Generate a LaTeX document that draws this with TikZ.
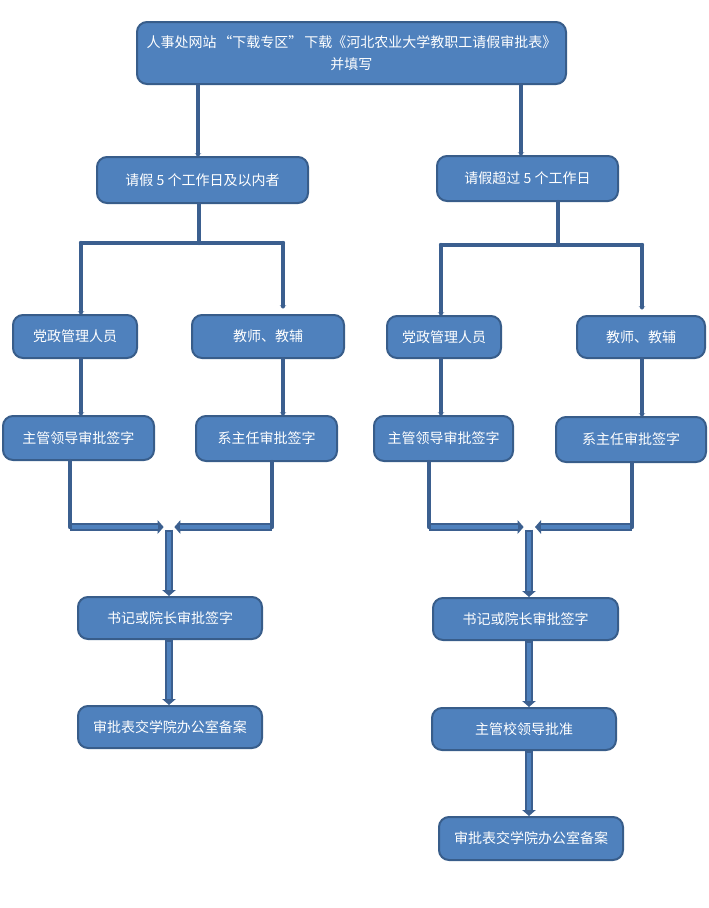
\documentclass[tikz,border=0pt]{standalone}
\usepackage{fontspec}
\setmainfont{Noto Sans CJK SC}
\usetikzlibrary{arrows.meta, positioning, calc}
\definecolor{boxfill}{HTML}{4F81BD}
\definecolor{boxline}{HTML}{385D8A}
\definecolor{linkline}{HTML}{3B5F8F}
\tikzset{
    flowchart/.style={x=0.75pt, y=-0.75pt, font=\fontsize{10.5}{16}\selectfont},
    flowbox/.style={draw=boxline, line width=1.5pt, fill=boxfill, rounded corners=7.5pt,
        text=white, align=center, inner sep=0pt},
    boxsize/.style 2 args={minimum width=#1*0.75pt, minimum height=#2*0.75pt},
    wire/.style={draw=linkline, line width=3.3pt, line cap=round},
    link/.style={wire, -{Stealth[length=2pt, width=5pt]}},
    % thick arrow: dark outline with a lighter core
    bigarrow/.style={draw=linkline, line width=5.6pt, -{Triangle[length=4.5pt, width=10pt]},
        postaction={draw=boxfill, line width=2.4pt, -, shorten >=4.5pt, shorten <=1.5pt}},
}
\begin{document}
\begin{tikzpicture}[flowchart]
    \useasboundingbox (0,0) rectangle (709,908);

    \node[flowbox, boxsize={429}{62}] (top) at (351.5,53)
        {人事处网站\hspace{1.5pt}“下载专区”\hspace{1.5pt}下载《河北农业大学教职工请假审批表》\\并填写};
    \node[flowbox, boxsize={211}{46}] (l5) at (202.5,180)   {请假 5 个工作日及以内者};
    \node[flowbox, boxsize={181}{45}] (r5) at (527.5,178.5) {请假超过 5 个工作日};

    \node[flowbox, boxsize={124}{43}] (la) at (75,336.5)    {党政管理人员};
    \node[flowbox, boxsize={152}{43}] (lb) at (268,336.5)   {教师、教辅};
    \node[flowbox, boxsize={114}{42}] (ra) at (444,337)     {党政管理人员};
    \node[flowbox, boxsize={128}{42}] (rb) at (641,337)     {教师、教辅};

    \node[flowbox, boxsize={151}{44}] (lc) at (78.5,438)    {主管领导审批签字};
    \node[flowbox, boxsize={141}{45}] (ld) at (266.5,438.5) {系主任审批签字};
    \node[flowbox, boxsize={139}{45}] (rc) at (443.5,438.5) {主管领导审批签字};
    \node[flowbox, boxsize={150}{45}] (rd) at (631,439.5)   {系主任审批签字};

    \node[flowbox, boxsize={184}{42}] (le) at (170,618)     {书记或院长审批签字};
    \node[flowbox, boxsize={184}{42}] (lf) at (170,727)     {审批表交学院办公室备案};
    \node[flowbox, boxsize={185}{42}] (re) at (525.5,619)   {书记或院长审批签字};
    \node[flowbox, boxsize={184}{42}] (rg) at (524,729)     {主管校领导批准};
    \node[flowbox, boxsize={184}{43}] (rf) at (531,838.5)   {审批表交学院办公室备案};

    % junction points
    \coordinate (ltop)    at ([xshift=-3.4pt]l5.north);
    \coordinate (rtop)    at ([xshift=-4.9pt]r5.north);
    \coordinate (lsplit)  at (199,243);
    \coordinate (lleft)   at (81,243);
    \coordinate (lright)  at (283,243);
    \coordinate (rsplit)  at (558,245);
    \coordinate (rleft)   at (441,245);
    \coordinate (rright)  at (642,245);
    \coordinate (lmerge1) at (70,527);
    \coordinate (lmerge2) at (272,527);
    \coordinate (ljoin)   at (169,527);
    \coordinate (rmerge1) at (429,527);
    \coordinate (rmerge2) at (632,527);
    \coordinate (rjoin)   at (529,527);

    % top box to the two cases
    \draw[link] (top.south -| ltop) -- (ltop);
    \draw[link] (top.south -| rtop) -- (rtop);

    % left case: split
    \draw[wire] (l5.south -| lsplit) -- (lsplit);
    \draw[wire] (lleft) -- (lright);
    \draw[link] (lleft) -- (la.north -| lleft);
    \draw[link] (lright) -- ([yshift=4.5pt]lb.north -| lright);
    \draw[link] (la.south -| lleft) -- (lc.north -| lleft);
    \draw[link] (lb.south -| lright) -- (ld.north -| lright);

    % right case: split
    \draw[wire] (r5.south -| rsplit) -- (rsplit);
    \draw[wire] (rleft) -- (rright);
    \draw[link] (rleft) -- (ra.north -| rleft);
    \draw[link] (rright) -- ([yshift=4.5pt]rb.north -| rright);
    \draw[link] (ra.south -| rleft) -- (rc.north -| rleft);
    \draw[link] (rb.south -| rright) -- (rd.north -| rright);

    % left case: merge
    \draw[wire] (lc.south -| lmerge1) -- (lmerge1);
    \draw[wire] (ld.south -| lmerge2) -- (lmerge2);
    \draw[bigarrow] (lmerge1) -- ([xshift=-4pt]ljoin);
    \draw[bigarrow] (lmerge2) -- ([xshift=4pt]ljoin);
    \draw[bigarrow] ([yshift=-2pt]ljoin) -- (le.north -| ljoin);
    \draw[bigarrow] (le.south -| ljoin) -- (lf.north -| ljoin);

    % right case: merge
    \draw[wire] (rc.south -| rmerge1) -- (rmerge1);
    \draw[wire] (rd.south -| rmerge2) -- (rmerge2);
    \draw[bigarrow] (rmerge1) -- ([xshift=-4pt]rjoin);
    \draw[bigarrow] (rmerge2) -- ([xshift=4.5pt]rjoin);
    \draw[bigarrow] ([yshift=-2pt]rjoin) -- (re.north -| rjoin);
    \draw[bigarrow] (re.south -| rjoin) -- (rg.north -| rjoin);
    \draw[bigarrow] (rg.south -| rjoin) -- (rf.north -| rjoin);
\end{tikzpicture}
\end{document}
